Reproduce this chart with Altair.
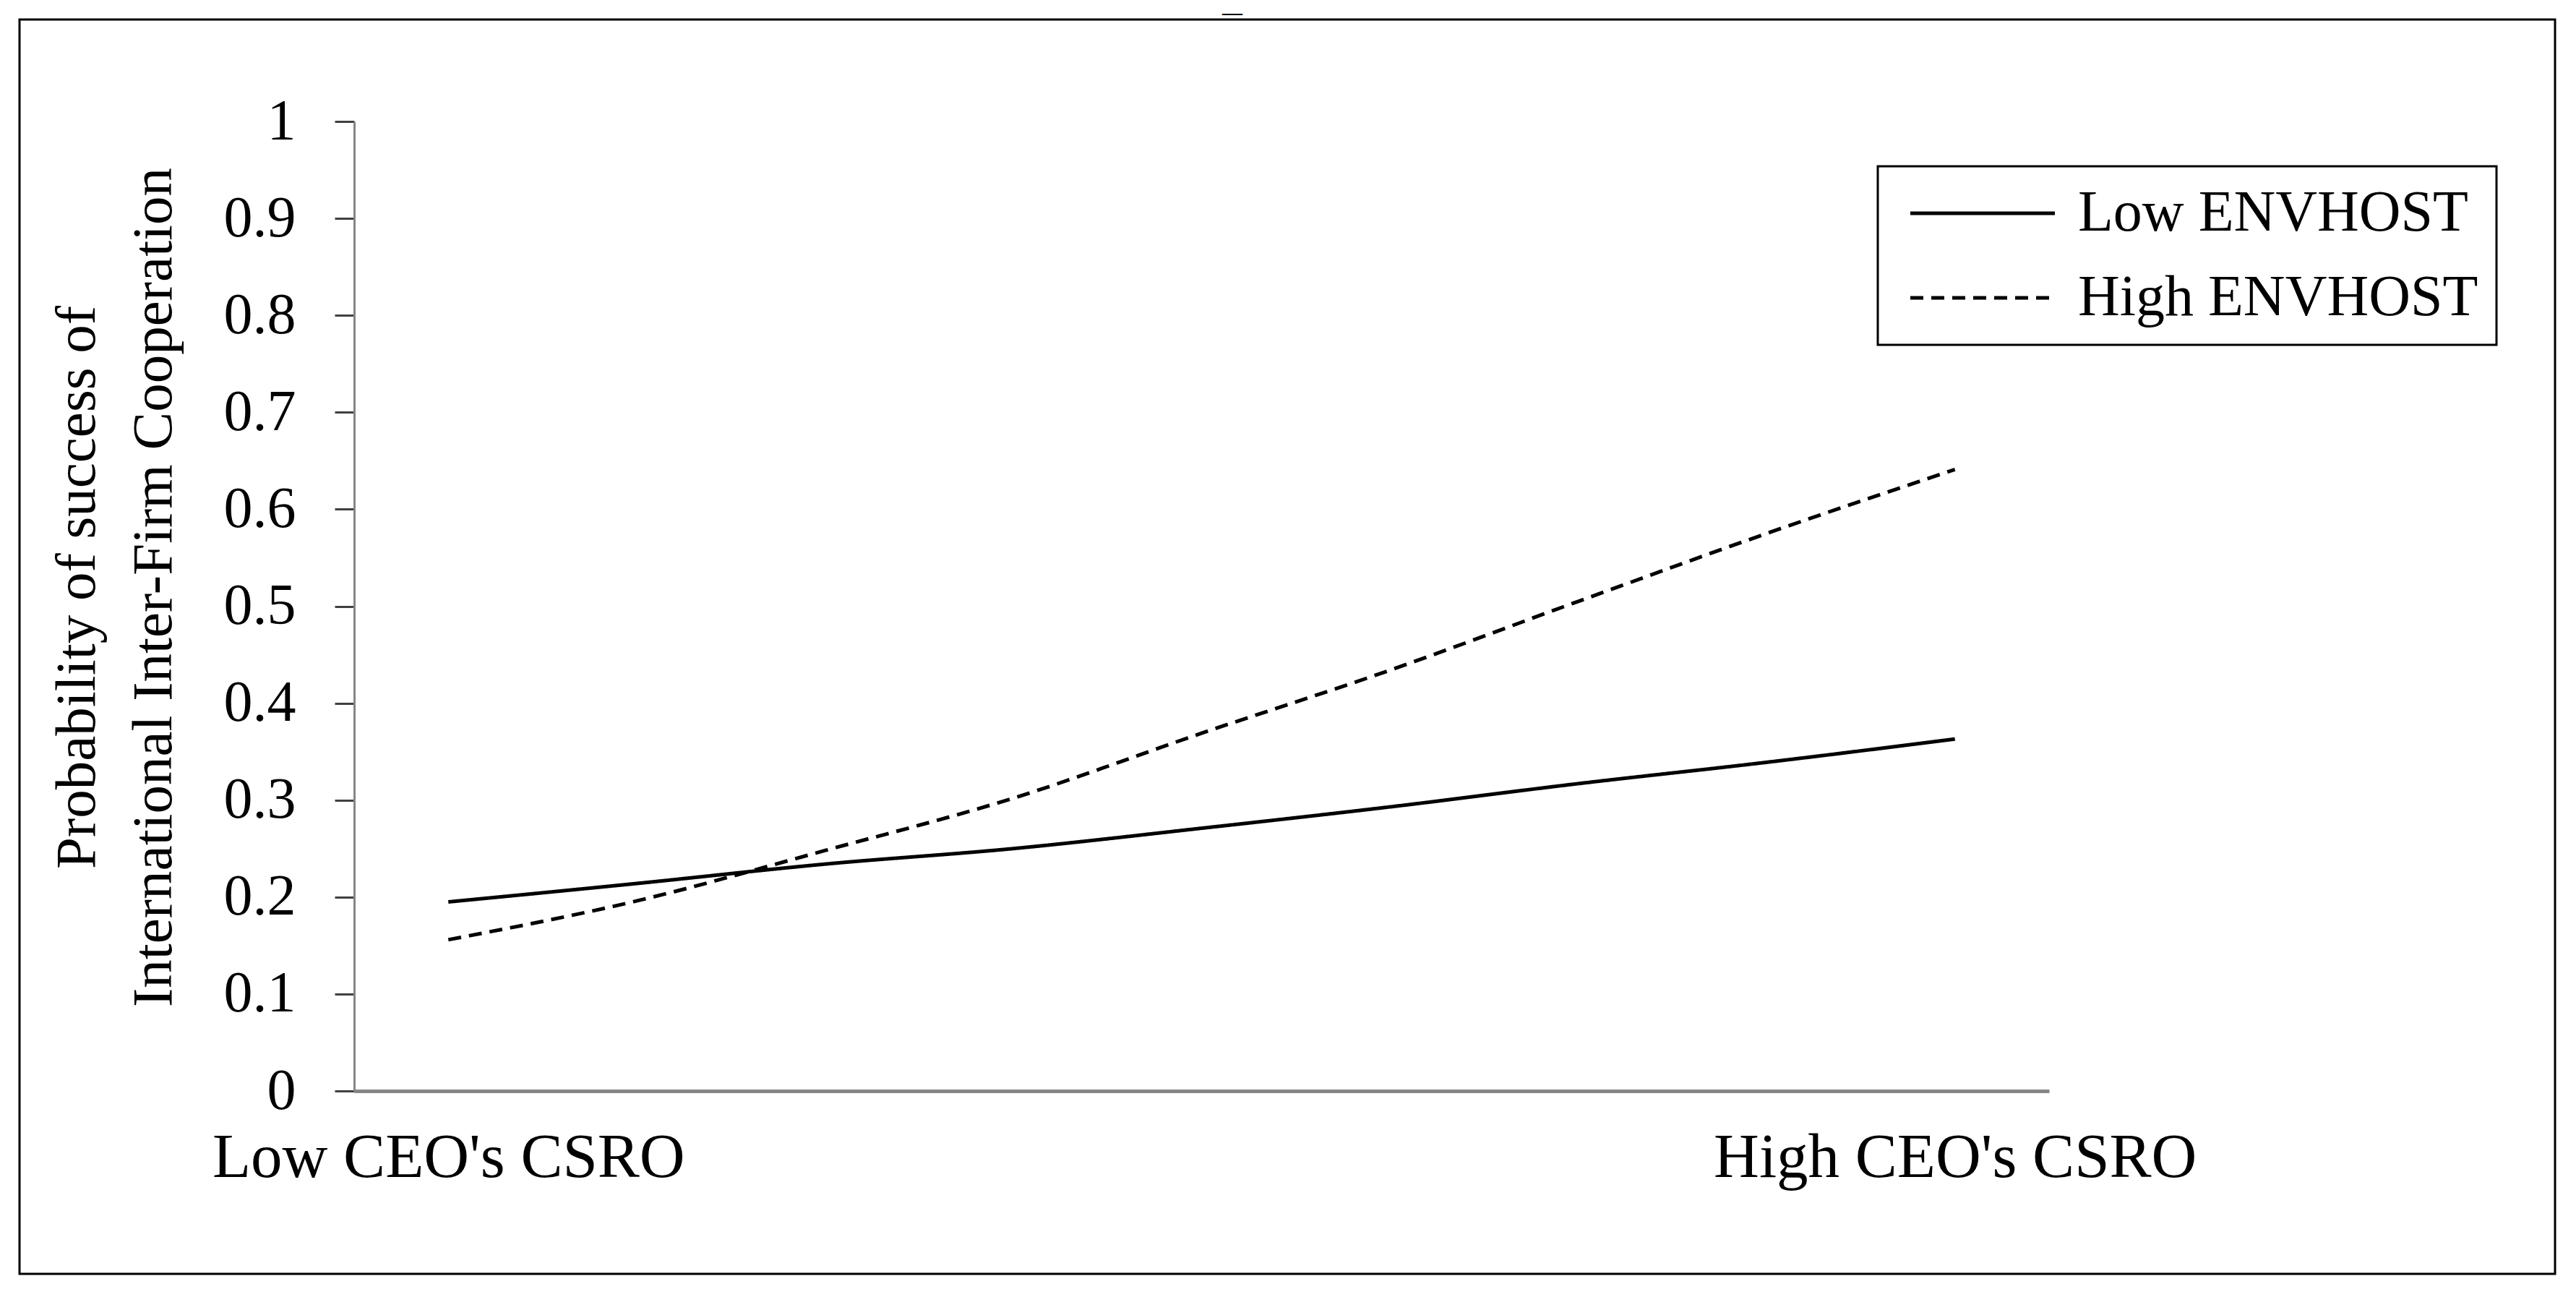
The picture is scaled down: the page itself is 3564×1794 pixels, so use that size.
import altair as alt
import pandas as pd

# ---- data ----
x_index = [0, 1, 2, 3, 4, 5, 6, 7, 8]
x_labels = ["Low CEO's CSRO", "High CEO's CSRO"]
series_names = ["Low ENVHOST", "High ENVHOST"]
low_envhost = [0.195, 0.214, 0.234, 0.250, 0.271, 0.293, 0.317, 0.339, 0.363]
high_envhost = [0.156, 0.196, 0.248, 0.302, 0.369, 0.434, 0.505, 0.575, 0.641]
y_ticks = [0, 0.1, 0.2, 0.3, 0.4, 0.5, 0.6, 0.7, 0.8, 0.9, 1.0]
y_title = ["Probability of success of", "International Inter-Firm Cooperation"]
top_mark = ["\u2014"]

rows = []
for name, vals in zip(series_names, [low_envhost, high_envhost]):
    for xi, v in zip(x_index, vals):
        rows.append({"csro": xi, "prob": v, "series": name})
df = pd.DataFrame(rows)

FONT = "Liberation Serif"
W, H = 2345, 1341

label_expr = (
    f"datum.value == {x_index[0]} ? \"{x_labels[0]}\" : \"{x_labels[1]}\""
)

lines = alt.Chart(df).mark_line(color="black", strokeWidth=5, interpolate="monotone").encode(
    x=alt.X(
        "csro:Q",
        scale=alt.Scale(domain=[x_index[0] - 0.5, x_index[-1] + 0.5], nice=False, zero=False),
        axis=alt.Axis(
            values=[x_index[0], x_index[-1]],
            labelExpr=label_expr,
            title=None,
            ticks=False,
            tickSize=0,
            grid=False,
            domainColor="#868686",
            domainWidth=5,
            labelFontSize=87,
            labelFont=FONT,
            labelColor="black",
            labelBaseline="alphabetic",
            labelPadding=118,
            labelOverlap=False,
            labelFlush=False,
            labelLimit=2000,
        ),
    ),
    y=alt.Y(
        "prob:Q",
        scale=alt.Scale(domain=[0, 1], nice=False),
        axis=alt.Axis(
            values=y_ticks,
            format=".1~f",
            title=y_title,
            titleFont=FONT,
            titleFontSize=79,
            titleFontWeight="normal",
            titleColor="black",
            titleLineHeight=106,
            titleBaseline="alphabetic",
            titleAngle=270,
            titleX=-360,
            titleY=644,
            titleAlign="center",
            titleLimit=3000,
            grid=False,
            domainColor="#868686",
            domainWidth=3,
            tickColor="#404040",
            tickWidth=3,
            tickSize=27,
            labelFontSize=80,
            labelFont=FONT,
            labelColor="black",
            labelPadding=54,
            labelLimit=1000,
        ),
    ),
    strokeDash=alt.StrokeDash(
        "series:N",
        scale=alt.Scale(domain=series_names, range=[[1, 0], [18, 11]]),
        legend=alt.Legend(
            title=None,
            orient="none",
            legendX=2108,
            legendY=62,
            symbolType="M-1,0H9",
            symbolSize=1600,
            symbolStrokeWidth=5,
            symbolStrokeColor="black",
            labelFont=FONT,
            labelFontSize=80,
            labelColor="black",
            labelOffset=172,
            labelLimit=2000,
            rowPadding=37,
            padding=25,
            strokeColor="black",
            fillColor="white",
        ),
    ),
    detail="series:N",
)

frame = alt.Chart(pd.DataFrame({"k": [0]})).mark_rect(
    filled=False, stroke="black", strokeWidth=3
).encode(
    x=alt.value(-463), x2=alt.value(3045), y=alt.value(-141), y2=alt.value(1594)
)

dash = alt.Chart(pd.DataFrame({"t": top_mark})).mark_text(
    font=FONT, fontSize=28, fontWeight="bold", color="black", baseline="middle", align="center"
).encode(
    text="t:N", x=alt.value(1215), y=alt.value(-150)
)

chart = alt.layer(frame, lines, dash).properties(
    width=W,
    height=H,
    autosize=alt.AutoSizeParams(type="none"),
    padding={"left": 482, "top": 160, "right": 715, "bottom": 266},
).configure(
    background="white",
    font=FONT,
).configure_view(
    stroke=None
).configure_legend(
    strokeWidth=3
)

chart.save("out.html", embed_options={"renderer": "svg", "actions": False})
